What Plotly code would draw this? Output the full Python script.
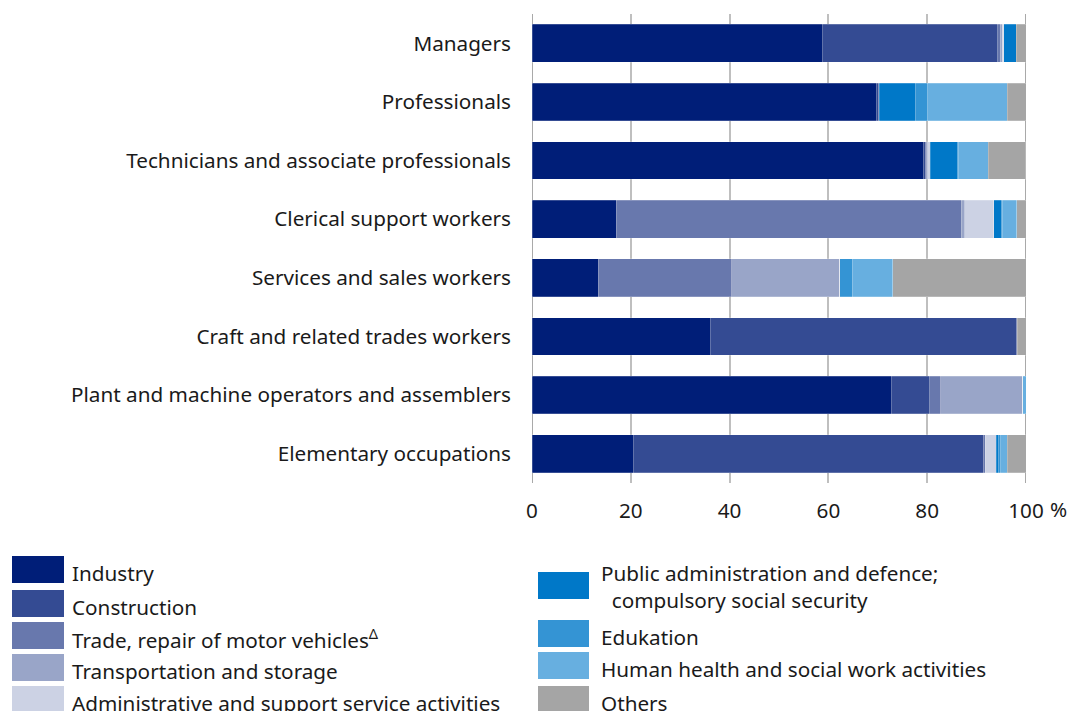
import plotly.graph_objects as go

# Occupation groups (top to bottom) and the sector shares within each, in %
occupations = [
    "Managers",
    "Professionals",
    "Technicians and associate professionals",
    "Clerical support workers",
    "Services and sales workers",
    "Craft and related trades workers",
    "Plant and machine operators and assemblers",
    "Elementary occupations",
]

sectors = [
    "Industry",
    "Construction",
    "Trade, repair of motor vehicles<sup>Δ</sup>",
    "Transportation and storage",
    "Administrative and support service activities",
    "Public administration and defence;<br>&nbsp;&nbsp;compulsory social security",
    "Edukation",
    "Human health and social work activities",
    "Others",
]

industry = [58.8, 69.8, 79.3, 17.1, 13.4, 36.2, 72.8, 20.6]
construction = [35.5, 0.3, 0.3, 0.0, 0.0, 61.8, 7.7, 70.7]
trade = [0.5, 0.2, 0.3, 69.8, 27.0, 0.2, 2.2, 0.4]
transport = [0.4, 0.0, 0.2, 0.7, 21.9, 0.0, 16.6, 0.0]
administrative = [0.3, 0.0, 0.5, 5.9, 0.0, 0.0, 0.0, 2.3]
public_admin = [2.5, 7.4, 5.6, 1.6, 0.0, 0.0, 0.0, 0.5]
education = [0.0, 2.4, 0.1, 0.1, 2.5, 0.0, 0.0, 0.4]
health = [0.0, 16.1, 6.1, 2.9, 8.2, 0.0, 0.7, 1.3]
others = [2.0, 3.8, 7.5, 1.9, 27.0, 1.8, 0.0, 3.8]

series = [industry, construction, trade, transport, administrative,
          public_admin, education, health, others]

colors = ["#001e78", "#344b93", "#6878ad", "#99a5c8", "#ccd2e4",
          "#0078c8", "#3494d4", "#67afe0", "#a5a5a5"]

x_ticks = [0, 20, 40, 60, 80, 100]

FONT = "Noto Sans, Open Sans, sans-serif"
FS = 20.7
TEXT = "#1a1a1a"

W, H = 1069, 711
L, R, T, B = 532, 43, 14, 228
PW, PH = W - L - R, H - T - B


def px(xp):
    return (xp - L) / PW


def py(yp):
    return (H - B - yp) / PH


fig = go.Figure()
for name, vals, col in zip(sectors, series, colors):
    fig.add_trace(go.Bar(
        y=occupations, x=vals, name=name, orientation="h",
        marker=dict(color=col, line=dict(color="rgba(255,255,255,0.35)", width=0.6)),
        showlegend=False,
    ))

shapes = []
# darker frame lines at 0 % and 100 %
for v in (0, 100):
    shapes.append(dict(type="line", xref="x", yref="paper", x0=v, x1=v, y0=0, y1=1,
                       line=dict(color="#8c8c8c", width=1.5), layer="below"))

annotations = [dict(text="%", xref="x", yref="paper", x=100, y=0, xshift=22,
                    yshift=-26, showarrow=False, xanchor="left", yanchor="middle",
                    font=dict(family=FONT, size=FS, color=TEXT))]

# Legend drawn as two columns of swatches with labels
left_rows = [556, 590, 622, 654, 686]
right_rows = [572, 620, 652, 686]
entries = []
for i in range(5):
    entries.append((12, 64, left_rows[i], 70, left_rows[i] + 17))
for j in range(4):
    top = right_rows[j]
    tx_y = top + 14 if j == 0 else top + 17
    entries.append((538, 589, top, 599, tx_y))

for (x0, x1, top, tx, ty), name, col in zip(entries, sectors, colors):
    shapes.append(dict(type="rect", xref="paper", yref="paper",
                       x0=px(x0), x1=px(x1), y0=py(top), y1=py(top + 27),
                       fillcolor=col, line=dict(width=0)))
    annotations.append(dict(text=name, xref="paper", yref="paper", x=px(tx), y=py(ty),
                            showarrow=False, xanchor="left", yanchor="middle", align="left",
                            font=dict(family=FONT, size=FS, color=TEXT)))

fig.update_layout(
    barmode="stack",
    bargap=0.357,
    width=W, height=H,
    margin=dict(l=L, r=R, t=T, b=B, pad=0),
    paper_bgcolor="white", plot_bgcolor="white",
    font=dict(family=FONT, size=FS, color=TEXT),
    xaxis=dict(range=[0, 100], tickvals=x_ticks, ticktext=[str(v) for v in x_ticks],
               showgrid=True, gridcolor="#bfbfbf", gridwidth=1.5, zeroline=False,
               showline=False, ticks="", ticklabelstandoff=13, fixedrange=True),
    yaxis=dict(categoryorder="array", categoryarray=occupations, autorange="reversed",
               showgrid=False, zeroline=False, showline=False, ticks="",
               ticklabelstandoff=20, fixedrange=True),
    shapes=shapes,
    annotations=annotations,
)

fig.write_html("out.html")
